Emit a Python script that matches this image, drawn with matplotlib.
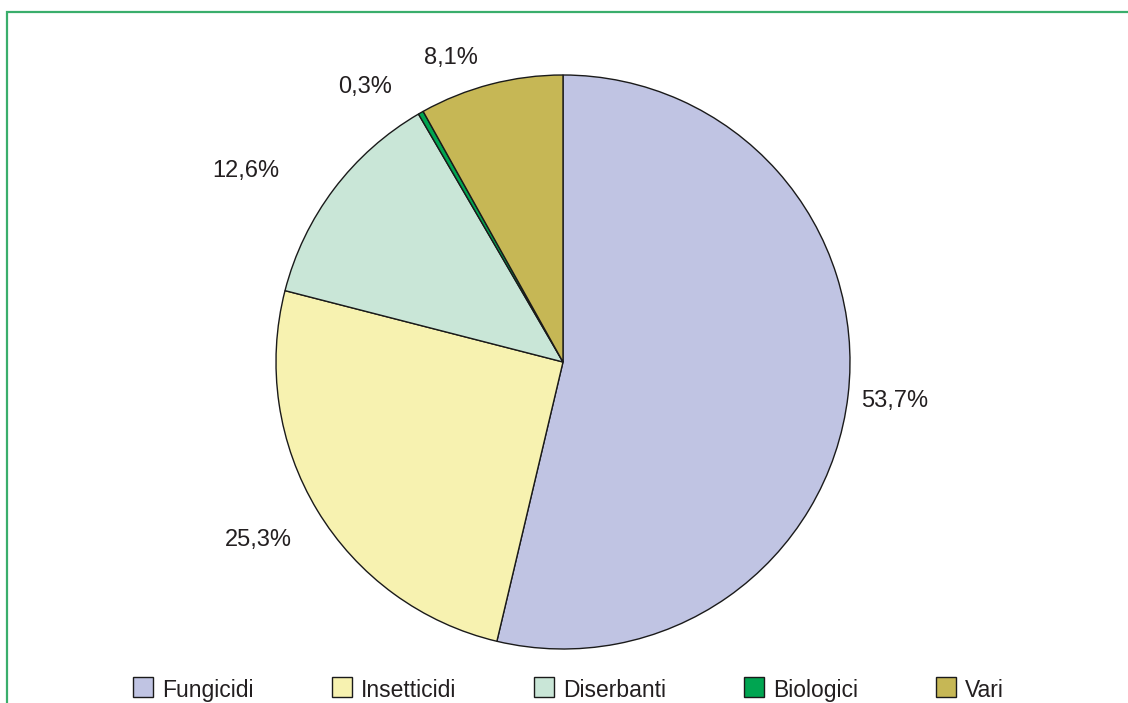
import numpy as np
import matplotlib.pyplot as plt
from matplotlib.patches import Rectangle

plt.rcParams['font.family'] = ['Liberation Sans', 'DejaVu Sans']

categorie = ['Fungicidi', 'Insetticidi', 'Diserbanti', 'Biologici', 'Vari']
quote = [53.7, 25.3, 12.6, 0.3, 8.1]
colori = ['#c0c4e3', '#f7f2b0', '#c9e6d7', '#00a551', '#c6b755']

# label placement around the pie: radial distance and angular nudge (degrees)
dist_etichette = [1.165, 1.23, 1.29, 1.18, 1.13]
sposta_angolo = [0.0, -0.8, 6.0, 6.0, 5.7]

W, H = 1128, 703
fig = plt.figure(figsize=(W / 100, H / 100), dpi=100)

# green frame around the chart area
fig.patches.append(Rectangle((7 / W, -0.2), 1.5, 1.2 - 12 / H,
                             transform=fig.transFigure, fill=False,
                             edgecolor='#3aae6c', linewidth=1.6))

cx, cy, r = 563, 362, 287
ax = fig.add_axes([(cx - r) / W, (H - cy - r) / H, 2 * r / W, 2 * r / H])
wedges, _ = ax.pie(quote, colors=colori, startangle=90, counterclock=False,
                   wedgeprops=dict(edgecolor='#1a1a1a', linewidth=1.0))
ax.set_xlim(-1, 1)
ax.set_ylim(-1, 1)
ax.set_aspect('auto')
ax.axis('off')

for w, q, d, da in zip(wedges, quote, dist_etichette, sposta_angolo):
    ang = np.deg2rad((w.theta1 + w.theta2) / 2 + da)
    ax.text(d * np.cos(ang), d * np.sin(ang), f'{q:.1f}%'.replace('.', ','),
            ha='center', va='center', fontsize=17, color='#231f20',
            clip_on=False)

# legend row along the bottom: square key + label, all on one baseline
fig.canvas.draw()
ren = fig.canvas.get_renderer()
x, base, lato = 133, H - 697, 20
for c, lab in zip(colori, categorie):
    fig.patches.append(Rectangle((x / W, base / H), lato / W, lato / H,
                                 transform=fig.transFigure, facecolor=c,
                                 edgecolor='#1a1a1a', linewidth=1.0))
    t = fig.text((x + lato + 9) / W, base / H, lab, va='baseline', ha='left',
                 fontsize=16.5, color='#231f20')
    x += lato + 9 + t.get_window_extent(ren).width + 78

fig.savefig('out.png', dpi=100)
